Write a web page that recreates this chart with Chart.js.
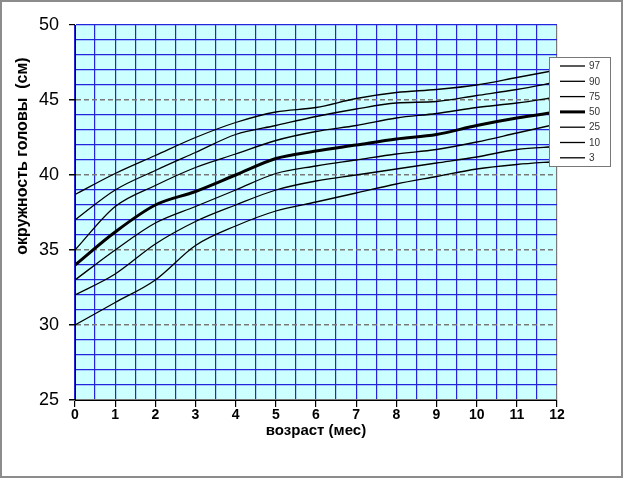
<!DOCTYPE html>
<html>
<head>
<meta charset="utf-8">
<script src="https://cdn.jsdelivr.net/npm/chart.js@4.4.0/dist/chart.umd.min.js"></script>
<style>
  html, body { margin: 0; padding: 0; background: #fff; }
  #wrap { width: 623px; height: 478px; }
</style>
</head>
<body>
<div id="wrap"><canvas id="chart"></canvas></div>
<script>
// Данные: окружность головы (см) по месяцам, перцентили
const months = [0, 1, 2, 3, 4, 5, 6, 7, 8, 9, 10, 11, 12];
const p97 = [38.7, 40.1, 41.3, 42.5, 43.5, 44.2, 44.5, 45.1, 45.5, 45.7, 46.0, 46.5, 47.0];
const p90 = [37.0, 39.0, 40.3, 41.5, 42.7, 43.3, 43.9, 44.4, 44.8, 44.9, 45.3, 45.7, 46.2];
const p75 = [35.0, 37.9, 39.3, 40.5, 41.4, 42.3, 42.9, 43.3, 43.8, 44.1, 44.5, 44.8, 45.2];
const p50 = [34.0, 36.2, 38.0, 38.9, 40.0, 41.1, 41.6, 42.0, 42.4, 42.7, 43.3, 43.8, 44.2];
const p25 = [33.0, 35.0, 36.8, 37.9, 39.0, 40.1, 40.6, 41.0, 41.4, 41.7, 42.2, 42.8, 43.4];
const p10 = [32.0, 33.4, 35.4, 36.9, 38.0, 39.0, 39.6, 40.0, 40.4, 40.8, 41.2, 41.7, 41.9];
const p3  = [30.0, 31.5, 33.0, 35.3, 36.6, 37.6, 38.2, 38.8, 39.4, 39.9, 40.4, 40.7, 40.9];

const seriesLabels = ['97', '90', '75', '50', '25', '10', '3'];
const seriesValues = [p97, p90, p75, p50, p25, p10, p3];

const FONT = 'Arial, "Liberation Sans", sans-serif';
const BLUE = '#2424dd';
const GRAY = '#787878';

const datasets = seriesValues.map((vals, i) => ({
    label: seriesLabels[i],
    data: vals.map((v, k) => ({ x: months[k], y: v })),
    borderColor: '#000',
    borderWidth: seriesLabels[i] === '50' ? 3 : 1.3,
    pointRadius: 0,
    fill: false,
    cubicInterpolationMode: 'monotone'
}));

// Фон всего рисунка и области графика, рамка, подпись оси Y
const backgroundPlugin = {
    id: 'bg',
    beforeDraw(chart) {
        const { ctx, chartArea: a } = chart;
        ctx.save();
        ctx.fillStyle = '#fff';
        ctx.fillRect(0, 0, chart.width, chart.height);
        ctx.fillStyle = '#ccffff';
        ctx.fillRect(a.left, a.top, a.right - a.left, a.bottom - a.top);
        ctx.restore();
    },
    afterDraw(chart) {
        const ctx = chart.ctx;
        ctx.save();
        ctx.strokeStyle = '#8c8c8c';
        ctx.lineWidth = 2;
        ctx.strokeRect(1, 1, chart.width - 2, chart.height - 2);
        // подпись оси Y (в оригинале сдвинута вверх от центра)
        ctx.translate(23, 156);
        ctx.rotate(-Math.PI / 2);
        ctx.fillStyle = '#000';
        ctx.font = 'bold 16px ' + FONT;
        ctx.textAlign = 'center';
        ctx.textBaseline = 'middle';
        ctx.fillText('окружность головы  (см)', 0, 0);
        ctx.restore();
    }
};

// Легенда внутри графика справа
const legendPlugin = {
    id: 'boxLegend',
    afterDatasetsDraw(chart) {
        const ctx = chart.ctx;
        const x = 549, y = 57, w = 61, h = 109;
        ctx.save();
        ctx.fillStyle = '#fff';
        ctx.fillRect(x, y, w, h);
        ctx.strokeStyle = GRAY;
        ctx.lineWidth = 1;
        ctx.strokeRect(x + 0.5, y + 0.5, w, h);
        ctx.font = '10px ' + FONT;
        ctx.textBaseline = 'middle';
        chart.data.datasets.forEach((ds, i) => {
            const ly = 66 + i * 15.3;
            ctx.strokeStyle = '#000';
            ctx.lineWidth = ds.borderWidth;
            ctx.beginPath();
            ctx.moveTo(560, ly);
            ctx.lineTo(585, ly);
            ctx.stroke();
            ctx.fillStyle = '#333';
            ctx.fillText(ds.label, 589, ly + 0.5);
        });
        ctx.restore();
    }
};

new Chart(document.getElementById('chart'), {
    type: 'line',
    data: { datasets: datasets },
    plugins: [backgroundPlugin, legendPlugin],
    options: {
        responsive: true,
        maintainAspectRatio: false,
        animation: false,
        layout: { padding: { left: 0, top: 25, right: 66, bottom: 0 } },
        plugins: {
            legend: { display: false },
            tooltip: { enabled: false }
        },
        scales: {
            x: {
                type: 'linear',
                min: 0,
                max: 12,
                afterFit: s => { s.height = 78; },
                ticks: {
                    stepSize: 0.5,
                    autoSkip: false,
                    maxRotation: 0,
                    padding: 0,
                    color: '#000',
                    font: { family: FONT, size: 14, weight: 'bold' },
                    callback: v => Number.isInteger(v) ? v : ''
                },
                grid: {
                    color: c => (c.tick && c.tick.value === 12) ? GRAY : BLUE,
                    lineWidth: 1.2,
                    tickLength: 7,
                    tickColor: c => (c.tick && Number.isInteger(c.tick.value)) ? '#000' : 'rgba(0,0,0,0)'
                },
                border: { color: '#000', width: 1 },
                title: {
                    display: true,
                    text: 'возраст (мес)',
                    color: '#000',
                    font: { family: FONT, size: 15, weight: 'bold' },
                    padding: { top: 0, bottom: 38 }
                }
            },
            y: {
                min: 25,
                max: 50,
                afterFit: s => { s.width = 75; },
                ticks: {
                    stepSize: 1,
                    autoSkip: false,
                    padding: 10,
                    color: '#000',
                    font: { family: FONT, size: 18 },
                    callback: v => v % 5 === 0 ? v : ''
                },
                grid: {
                    color: c => {
                        const v = c.tick ? c.tick.value : 0;
                        return (v % 5 === 0 && v !== 50) ? GRAY : BLUE;
                    },
                    lineWidth: c => {
                        const v = c.tick ? c.tick.value : 0;
                        return (v % 5 === 0 && v !== 50) ? 1.5 : 1.2;
                    },
                    tickLength: 6,
                    tickColor: c => (c.tick && c.tick.value % 5 === 0) ? '#000' : 'rgba(0,0,0,0)'
                },
                border: {
                    color: '#000',
                    width: 1,
                    dash: c => {
                        const v = c.tick ? c.tick.value : 0;
                        return (v % 5 === 0 && v > 25 && v < 50) ? [5, 3] : [];
                    }
                },
                title: { display: false }
            }
        }
    }
});
</script>
</body>
</html>
